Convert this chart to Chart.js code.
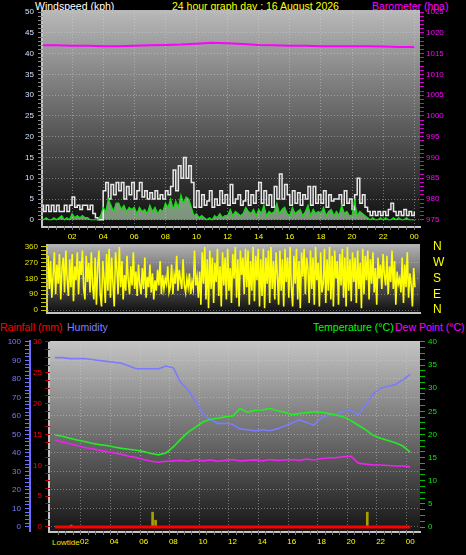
<!DOCTYPE html>
<html>
<head>
<meta charset="utf-8">
<script src="https://cdn.jsdelivr.net/npm/chart.js@4/dist/chart.umd.min.js"></script>
<style>
body { margin: 0; background: #000; width: 466px; height: 555px; overflow: hidden; position: relative; font-family: "Liberation Sans", Arial, sans-serif; }
canvas { position: absolute; left: 0; }
.t { position: absolute; font-size: 10.5px; line-height: 12px; white-space: nowrap; }
</style>
</head>
<body>
<div class="t" style="left:35px;top:0;color:#fff">Windspeed (kph)</div>
<div class="t" style="left:172px;top:0;color:#ffff00">24 hour graph day : 16 August 2026</div>
<div class="t" style="left:372px;top:0;color:#ff00ff">Barometer (hpa)</div>
<div class="t" style="left:0;top:321px;color:#ff0000">Rainfall (mm)</div>
<div class="t" style="left:67px;top:321px;color:#8080ff">Humidity</div>
<div class="t" style="left:313px;top:321px;color:#00ff00">Temperature (°C)</div>
<div class="t" style="left:395px;top:321px;color:#ff00ff">Dew Point (°C)</div>
<div class="t" style="left:52px;top:538px;font-size:8px;line-height:9px;color:#e8e800">Lowtide</div>

<canvas id="windChart" width="466" height="245" style="top:0"></canvas>
<canvas id="dirChart" width="466" height="85" style="top:235px"></canvas>
<canvas id="thChart" width="466" height="223" style="top:332px"></canvas>

<script>
// x axis ticks (hours)
const hourTicks = [2, 4, 6, 8, 10, 12, 14, 16, 18, 20, 22, 24];
const hourLabels = ['02', '04', '06', '08', '10', '12', '14', '16', '18', '20', '22', '00'];

// wind speed kph, every 10 minutes from 00:00
const windGust = [3.5, 2, 3.5, 2, 3.5, 2, 3.5, 2, 2, 3.5, 2, 3.5,
  5.5, 3, 3.5, 2.5, 3.5, 3.5, 2.5, 3.5, 1.5, 0.5, 0, 0,
  7, 9, 5, 8.5, 6, 9, 7, 9, 5, 8, 6, 9,
  5, 7, 9, 5.5, 7, 5, 6.5, 5, 7, 5, 6, 5,
  7, 6, 8, 12, 7, 13, 10, 15, 10, 13, 9, 3,
  7, 3, 6, 3.5, 4.5, 7, 3, 5, 3.5, 7, 4, 6,
  3.5, 8.5, 4, 5, 6, 3.5, 4.5, 7, 3.5, 6, 4, 7,
  9, 4, 7, 3.5, 6, 3, 8, 5, 11, 5, 8.5, 6,
  3.5, 7, 4, 6.5, 3.5, 6, 5, 8, 3.5, 8, 4, 6,
  4, 7, 3, 6, 4.5, 5, 5, 6, 3.5, 7, 4, 5,
  2.5, 6, 10, 4, 6, 3, 2, 1, 2, 1, 2, 1,
  2, 1, 2.5, 4, 2, 1, 2, 1, 2.5, 1, 2, 1, 2];
const windAvg = [0.5, 0, 0.5, 0, 0, 0.5, 0, 0.5, 1, 0, 0.5, 0,
  1.5, 0.5, 1, 0.5, 1, 0.5, 0.5, 0, 0, 0, 0, 1,
  3, 2, 5, 3.5, 2, 4, 4, 2.5, 3.5, 2, 3, 2.5,
  3, 1.5, 3, 2, 2.5, 1.5, 3.5, 2, 3, 1.5, 2.5, 2,
  4, 3, 5, 2.5, 4.5, 3, 6, 4, 5.5, 5, 3, 1,
  1.5, 0.5, 1, 0.5, 0, 0.5, 0, 1, 0.5, 1.5, 0.5, 1,
  1, 2.5, 1, 2, 1.5, 1, 1.5, 3, 2, 1.5, 2.5, 1,
  2.5, 1.5, 3.5, 1, 2, 1.5, 2, 4, 1.5, 2.5, 3, 1.5,
  1, 3, 1.5, 2, 2.5, 1, 2, 3.5, 1, 2.5, 1.5, 2,
  1.5, 3, 1, 2, 2.5, 1, 2, 1, 3.5, 1.5, 2, 1,
  1, 4.5, 1, 2, 1.5, 1, 0.5, 0, 0.5, 0, 0, 0.5,
  0, 0.5, 0, 0, 0.5, 0, 0.5, 0, 0, 0.5, 0, 0, 0];
// barometer hpa, hourly
const pressure = [1017.0, 1017.0, 1016.9, 1016.9, 1016.8, 1016.8, 1016.9, 1017.0, 1017.1, 1017.2,
  1017.4, 1017.6, 1017.5, 1017.3, 1017.1, 1017.0, 1016.9, 1016.9, 1016.8, 1016.8,
  1016.8, 1016.8, 1016.7, 1016.6, 1016.6];

// wind direction degrees, every 5 minutes
const windDir = [310, 120, 280, 70, 200, 330, 90, 260, 150, 320, 60, 240,
  300, 100, 340, 180, 80, 290, 130, 320, 50, 250, 170, 330,
  90, 280, 200, 340, 120, 60, 310, 160, 270, 100, 330, 140,
  60, 300, 30, 250, 340, 90, 20, 280, 180, 40, 320, 110,
  350, 70, 300, 150, 20, 330, 240, 90, 360, 130, 280, 60,
  200, 110, 310, 170, 90, 250, 140, 330, 120, 220, 80, 260,
  150, 90, 240, 120, 300, 70, 190, 130, 260, 100, 210, 60,
  170, 110, 230, 140, 280, 90, 200, 120, 180, 150, 250, 100,
  130, 260, 90, 200, 150, 310, 110, 230, 170, 120, 290, 140,
  100, 180, 130, 210, 90, 160, 120, 340, 140, 190, 70, 220,
  30, 330, 150, 360, 60, 290, 10, 340, 120, 300, 40, 270,
  160, 350, 80, 250, 20, 330, 140, 300, 60, 350, 110, 240,
  40, 320, 180, 360, 70, 290, 20, 340, 200, 300, 90, 350,
  130, 340, 30, 280, 110, 360, 50, 310, 170, 350, 20, 290,
  80, 350, 10, 300, 150, 340, 40, 360, 120, 280, 60, 330,
  200, 30, 340, 110, 290, 20, 350, 160, 300, 70, 360, 130,
  20, 310, 150, 350, 60, 280, 10, 330, 190, 350, 90, 300,
  240, 40, 340, 120, 300, 30, 360, 170, 270, 20, 330, 100,
  150, 350, 40, 290, 110, 360, 60, 310, 20, 340, 180, 280,
  30, 320, 140, 350, 70, 300, 20, 360, 110, 290, 50, 330,
  160, 300, 40, 340, 120, 270, 10, 350, 90, 310, 170, 340,
  60, 290, 150, 330, 100, 240, 30, 300, 180, 260, 120, 320,
  200, 140, 310, 90, 250, 160, 340, 120, 280, 30, 220, 150,
  180, 100, 300, 40, 260, 130, 330, 70, 210, 150, 20, 240, 130];
const dirTicks = [0, 90, 180, 270, 360];
const dirLetters = ['N', 'E', 'S', 'W', 'N'];

// every 30 minutes
const humidity = [91.5, 91.5, 91, 91, 91, 90.5, 90, 89.5, 89, 88.5, 87, 85.5, 85.5, 85.5,
  85.5, 87, 86, 78, 74, 68, 61, 58, 56, 56, 55.5, 53, 52.5, 52, 52.5, 52,
  53, 54.5, 56, 58, 56.5, 55, 59, 60.5, 61, 62.5, 63, 60.5, 66, 72, 75, 76,
  77, 79.5, 82.5];
const temperature = [19.9, 19.6, 19.2, 18.8, 18.5, 18.1, 17.8, 17.6, 17.3, 17.0, 16.8, 16.6,
  16.3, 15.9, 15.6, 16.0, 17.3, 19.0, 20.5, 21.6, 22.7, 23.3, 23.5, 23.8,
  24.0, 25.6, 24.8, 25.2, 25.3, 25.6, 25.2, 24.8, 24.3, 24.5, 24.7, 24.9,
  24.8, 24.5, 24.2, 23.8, 23.0, 22.0, 21.0, 19.8, 19.2, 18.7, 18.2, 17.5, 16.2];
const dewPoint = [18.8, 18.4, 18.0, 17.6, 17.2, 16.9, 16.6, 16.3, 16.0, 15.7, 15.3, 15.0,
  14.6, 14.2, 14.0, 14.2, 14.3, 14.4, 14.2, 14.6, 14.3, 14.5, 14.2, 14.4,
  14.6, 14.3, 14.4, 14.5, 14.3, 14.6, 14.4, 14.5, 14.6, 14.4, 14.7, 14.5,
  14.8, 14.9, 15.0, 15.2, 15.3, 13.8, 13.6, 13.4, 13.4, 13.3, 13.2, 13.2, 13.0];
// rainfall mm, hourly
const rainfall = [0, 0, 0, 0, 0, 0, 0, 0, 0, 0, 0, 0, 0, 0, 0, 0, 0, 0, 0, 0, 0, 0, 0, 0, 0];
// markers at the bottom (tide / rate bars)
const markerHours = [1.1, 6.6, 6.8, 21.1];
const markerValues = [0.3, 2.4, 1.1, 2.4];

Chart.defaults.font.family = '"Liberation Sans", Arial, sans-serif';

const series = (vals, step) => vals.map((v, i) => ({ x: i * step, y: v }));
const range = (a, b, s) => { const out = []; for (let v = a; v <= b + 1e-9; v += s) out.push(+v.toFixed(3)); return out; };
const gridCol = 'rgba(215,215,215,0.45)';

// gradient plot area with a light bevel on the left and bottom
const panelBg = {
  id: 'panelBg',
  beforeDraw(chart, args, opts) {
    const { ctx, chartArea: a } = chart;
    const g = ctx.createLinearGradient(0, a.top, 0, a.bottom);
    g.addColorStop(0, opts.top);
    g.addColorStop(1, opts.bottom);
    ctx.save();
    ctx.fillStyle = g;
    ctx.fillRect(a.left, a.top, a.right - a.left, a.bottom - a.top);
    ctx.fillStyle = '#c4c4c4';
    ctx.fillRect(a.left - 2, a.top, 2, a.bottom - a.top + 2);
    ctx.fillRect(a.left - 2, a.bottom, a.right - a.left + 3, 2);
    ctx.restore();
  }
};

function hourAxis(min, max, height) {
  return {
    type: 'linear', min, max, bounds: 'data',
    afterBuildTicks: s => { s.ticks = range(0.5, 24, 0.5).map(v => ({ value: v })); },
    afterFit: s => { s.height = height; },
    ticks: {
      color: '#ffff00', font: { size: 8 }, padding: 2, autoSkip: false, maxRotation: 0, minRotation: 0,
      callback: v => { const i = hourTicks.indexOf(v); return i >= 0 ? hourLabels[i] : ''; }
    },
    grid: {
      color: c => (c.tick && hourTicks.includes(c.tick.value)) ? gridCol : 'transparent',
      tickColor: '#777', tickLength: 4
    },
    border: { display: false, dash: [1, 2] }
  };
}

function valueAxis(o) {
  return {
    position: o.position, min: o.min, max: o.max, weight: o.weight || 0, bounds: 'data',
    afterBuildTicks: s => { s.ticks = o.ticks.map(v => ({ value: v })); },
    afterFit: s => { s.width = o.width; },
    ticks: {
      color: o.color, font: { size: o.fontSize || 8 }, padding: o.padding, autoSkip: false,
      callback: o.label
    },
    grid: {
      drawOnChartArea: !!o.gridEvery,
      color: c => (o.gridEvery && c.tick && c.tick.value % o.gridEvery === 0) ? gridCol : 'transparent',
      tickColor: o.tickColor || 'transparent', tickLength: o.tickLength
    },
    border: { display: !!o.borderColor, color: o.borderColor || 'transparent', width: 2, dash: [1, 2] }
  };
}

const common = {
  responsive: false, animation: false, devicePixelRatio: 1,
  elements: { point: { radius: 0 }, line: { tension: 0 } }
};

// wind speed + barometer
new Chart(document.getElementById('windChart'), {
  type: 'line',
  data: {
    datasets: [
      { data: series(pressure, 1), yAxisID: 'baro', borderColor: '#ff00ff', borderWidth: 2 },
      { data: series(windAvg, 1 / 6), yAxisID: 'speed', borderColor: '#10e010', borderWidth: 1.2,
        fill: 'origin', backgroundColor: 'rgba(210,255,210,0.55)' },
      { data: series(windGust, 1 / 6), yAxisID: 'speed', borderColor: '#e8e8e8', borderWidth: 1.5, stepped: true }
    ]
  },
  options: {
    ...common,
    layout: { padding: { top: 10 } },
    plugins: { legend: { display: false }, tooltip: { enabled: false }, panelBg: { top: '#b9b9b9', bottom: '#0d0d0d' } },
    scales: {
      x: hourAxis(0.13, 24.37, 19),
      speed: valueAxis({ position: 'left', min: -1.5, max: 50.5, ticks: range(0, 50, 1), width: 43,
        color: '#d0e0ff', padding: 4, tickLength: 5, tickColor: '#8a8a8a', gridEvery: 5,
        label: v => v % 5 === 0 ? String(v) : '' }),
      baro: valueAxis({ position: 'right', min: 973.5, max: 1025.5, ticks: range(975, 1025, 1), width: 46,
        color: '#ff00ff', padding: 2, tickLength: 4, tickColor: '#d000d0',
        label: v => v % 5 === 0 ? String(v) : '' })
    }
  },
  plugins: [panelBg]
});

// wind direction
new Chart(document.getElementById('dirChart'), {
  type: 'line',
  data: {
    datasets: [
      { data: series(windDir, 1 / 12), yAxisID: 'dir', borderColor: '#ffff00', borderWidth: 1.6 }
    ]
  },
  options: {
    ...common,
    layout: { padding: { top: 9, bottom: 8 } },
    plugins: { legend: { display: false }, tooltip: { enabled: false }, panelBg: { top: '#b4b4b4', bottom: '#101010' } },
    scales: {
      x: { type: 'linear', min: 0, max: 24.33, display: false },
      dir: valueAxis({ position: 'left', min: -11.4, max: 377, ticks: range(0, 360, 22.5), width: 48,
        color: '#e4e400', padding: 3, tickLength: 7, tickColor: '#c8c800', gridEvery: 90,
        label: v => v % 90 === 0 ? String(v) : '' }),
      compass: valueAxis({ position: 'right', min: -11.4, max: 377, ticks: dirTicks, width: 46,
        color: '#ffff00', fontSize: 12, padding: 0, tickLength: 13,
        label: v => dirLetters[dirTicks.indexOf(v)] })
    }
  },
  plugins: [panelBg]
});

// temperature, dew point, humidity, rainfall
new Chart(document.getElementById('thChart'), {
  type: 'line',
  data: {
    datasets: [
      { data: series(temperature, 0.5), yAxisID: 'temp', borderColor: '#22ee22', borderWidth: 1.6 },
      { data: series(dewPoint, 0.5), yAxisID: 'temp', borderColor: '#ee22ee', borderWidth: 1.6 },
      { data: series(humidity, 0.5), yAxisID: 'hum', borderColor: '#7b7bff', borderWidth: 1.6 },
      { data: series(rainfall, 1), yAxisID: 'rain', borderColor: '#ff0000', borderWidth: 3 },
      { type: 'bar', data: markerHours.map((h, i) => ({ x: h, y: markerValues[i] })), yAxisID: 'rain',
        backgroundColor: '#a8a000', barThickness: 2 }
    ]
  },
  options: {
    ...common,
    layout: { padding: { top: 9 } },
    plugins: { legend: { display: false }, tooltip: { enabled: false }, panelBg: { top: '#c4c4c4', bottom: '#161616' } },
    scales: {
      x: hourAxis(-0.07, 24.4, 24),
      hum: valueAxis({ position: 'left', weight: 10, min: -2.2, max: 100.5, ticks: range(0, 100, 2), width: 30,
        color: '#7b7bff', padding: 4, tickLength: 5, tickColor: '#7070ff', gridEvery: 10, borderColor: '#6c6cff',
        label: v => v % 10 === 0 ? String(v) : '' }),
      rain: valueAxis({ position: 'left', weight: 0, min: -0.65, max: 30.16, ticks: range(0, 30, 1.25), width: 20,
        color: '#ff0000', padding: 3, tickLength: 5, tickColor: '#c00000',
        label: v => v % 5 === 0 ? String(v) : '' }),
      temp: valueAxis({ position: 'right', min: -0.86, max: 40.2, ticks: range(0, 40, 1.25), width: 46,
        color: '#00ee00', padding: 3, tickLength: 5, tickColor: '#00c000',
        label: v => v % 5 === 0 ? String(v) : '' })
    }
  },
  plugins: [panelBg]
});
</script>
</body>
</html>
